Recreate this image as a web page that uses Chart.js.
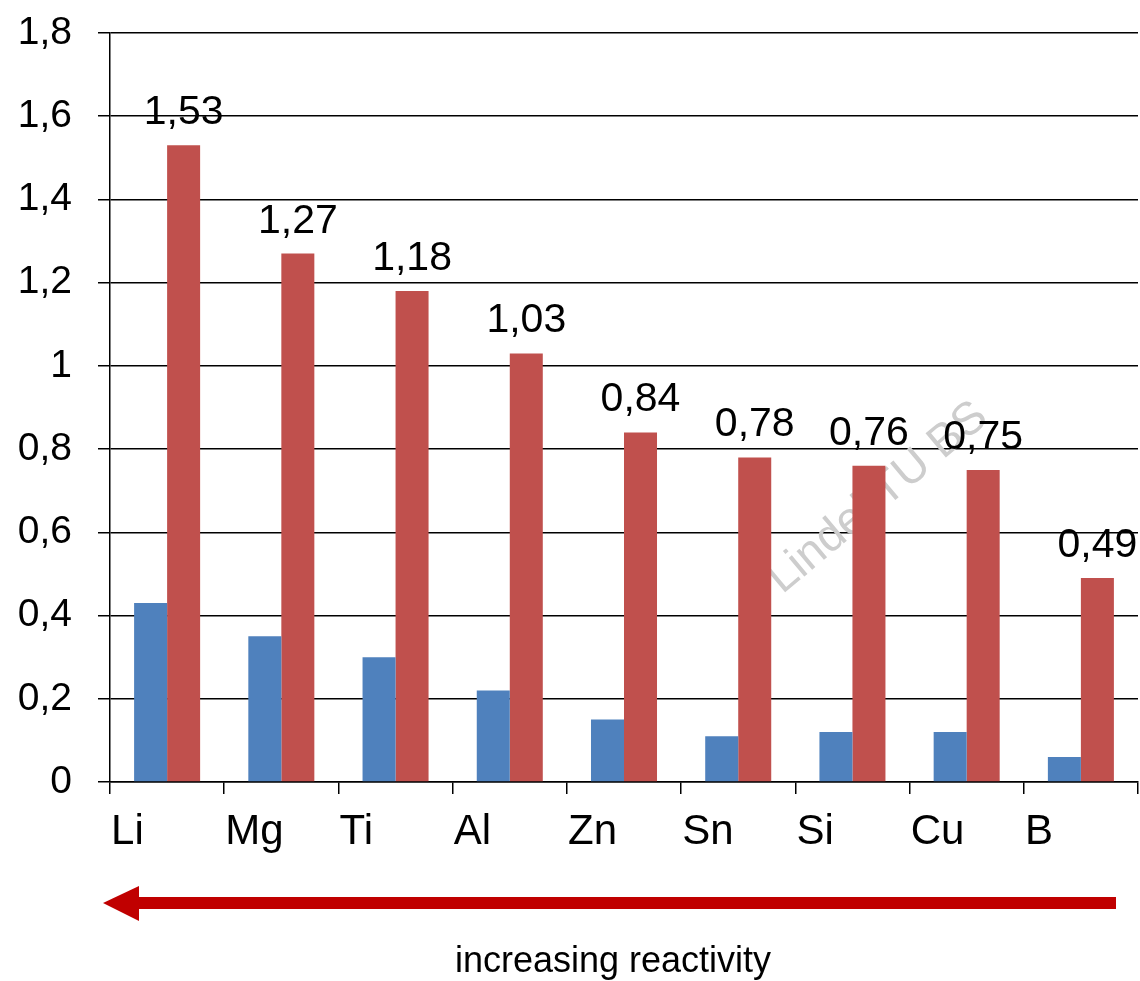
<!DOCTYPE html>
<html>
<head>
<meta charset="utf-8">
<script src="https://cdn.jsdelivr.net/npm/chart.js@4"></script>
<style>
  html, body { margin: 0; padding: 0; background: #ffffff; }
  #wrap { width: 1140px; height: 981px; position: relative; }
</style>
</head>
<body>
<div id="wrap"><canvas id="chart"></canvas></div>
<script>
// Elements, ordered from most to least reactive
const elements = ['Li', 'Mg', 'Ti', 'Al', 'Zn', 'Sn', 'Si', 'Cu', 'B'];
const seriesBlue = [0.43, 0.35, 0.30, 0.22, 0.15, 0.11, 0.12, 0.12, 0.06];
const seriesRed = [1.53, 1.27, 1.18, 1.03, 0.84, 0.78, 0.76, 0.75, 0.49];
const yTicks = [0, 0.2, 0.4, 0.6, 0.8, 1, 1.2, 1.4, 1.6, 1.8];
const arrowCaption = 'increasing reactivity';
const watermark = 'Lindel TU BS';

const FONT = "'Liberation Sans', Arial, sans-serif";
const comma = v => String(Math.round(v * 100) / 100).replace('.', ',');

// Value labels above the red bars
const valueLabels = {
  id: 'valueLabels',
  afterDatasetsDraw(chart) {
    const ctx = chart.ctx;
    const meta = chart.getDatasetMeta(1);
    ctx.save();
    ctx.font = '41px ' + FONT;
    ctx.fillStyle = '#000000';
    ctx.textAlign = 'center';
    ctx.textBaseline = 'alphabetic';
    meta.data.forEach((bar, i) => {
      ctx.fillText(comma(seriesRed[i]), bar.x, bar.y - 21);
    });
    ctx.restore();
  }
};

// Faint diagonal stamp behind the bars
const stamp = {
  id: 'stamp',
  beforeDatasetsDraw(chart) {
    const ctx = chart.ctx;
    ctx.save();
    ctx.translate(878, 498);
    ctx.rotate(-40 * Math.PI / 180);
    ctx.font = '46px ' + FONT;
    ctx.fillStyle = '#cdcdcd';
    ctx.textAlign = 'center';
    ctx.textBaseline = 'middle';
    ctx.fillText(watermark, 0, 0);
    ctx.restore();
  }
};

// Reactivity arrow and caption below the axis
const reactivityArrow = {
  id: 'reactivityArrow',
  afterDraw(chart) {
    const ctx = chart.ctx;
    ctx.save();
    ctx.fillStyle = '#C00000';
    ctx.fillRect(138, 897, 1116 - 138, 12);
    ctx.beginPath();
    ctx.moveTo(103, 903);
    ctx.lineTo(139, 886);
    ctx.lineTo(139, 921);
    ctx.closePath();
    ctx.fill();
    ctx.font = '36px ' + FONT;
    ctx.fillStyle = '#000000';
    ctx.textAlign = 'center';
    ctx.textBaseline = 'alphabetic';
    ctx.fillText(arrowCaption, 613, 972);
    ctx.restore();
  }
};

// Fixed axis boxes so the plot area sits at a set place on the canvas
function fixBox(size, isX) {
  return function (scale) {
    if (isX) { scale.height = size; } else { scale.width = size; }
    scale.paddingTop = 0;
    scale.paddingBottom = 0;
    scale.paddingLeft = 0;
    scale.paddingRight = 0;
  };
}

new Chart(document.getElementById('chart'), {
  type: 'bar',
  data: {
    labels: elements,
    datasets: [
      { data: seriesBlue, backgroundColor: '#4F81BD', borderWidth: 0 },
      { data: seriesRed, backgroundColor: '#C0504D', borderWidth: 0 }
    ]
  },
  options: {
    responsive: true,
    maintainAspectRatio: false,
    animation: false,
    events: [],
    layout: { padding: { top: 33, right: 2, left: 0, bottom: 0 } },
    datasets: { bar: { categoryPercentage: 0.578, barPercentage: 1 } },
    plugins: { legend: { display: false }, tooltip: { enabled: false } },
    scales: {
      x: {
        afterFit: fixBox(199, true),
        grid: { display: true, drawOnChartArea: false, drawTicks: true, tickLength: 12, color: '#000000', lineWidth: 1.5, offset: true },
        border: { display: true, color: '#000000', width: 1.5 },
        ticks: {
          color: '#000000',
          font: { family: FONT, size: 42 },
          align: 'start',
          labelOffset: -56,
          padding: 13,
          maxRotation: 0,
          autoSkip: false
        }
      },
      y: {
        min: 0,
        max: 1.8,
        afterFit: fixBox(110, false),
        afterBuildTicks(scale) { scale.ticks = yTicks.map(v => ({ value: v })); },
        grid: { color: '#000000', lineWidth: 1.5, tickLength: 12, drawTicks: true },
        border: { display: true, color: '#000000', width: 1.5 },
        ticks: {
          color: '#000000',
          font: { family: FONT, size: 39 },
          padding: 26,
          callback: v => comma(v)
        }
      }
    }
  },
  plugins: [stamp, valueLabels, reactivityArrow]
});
</script>
</body>
</html>
